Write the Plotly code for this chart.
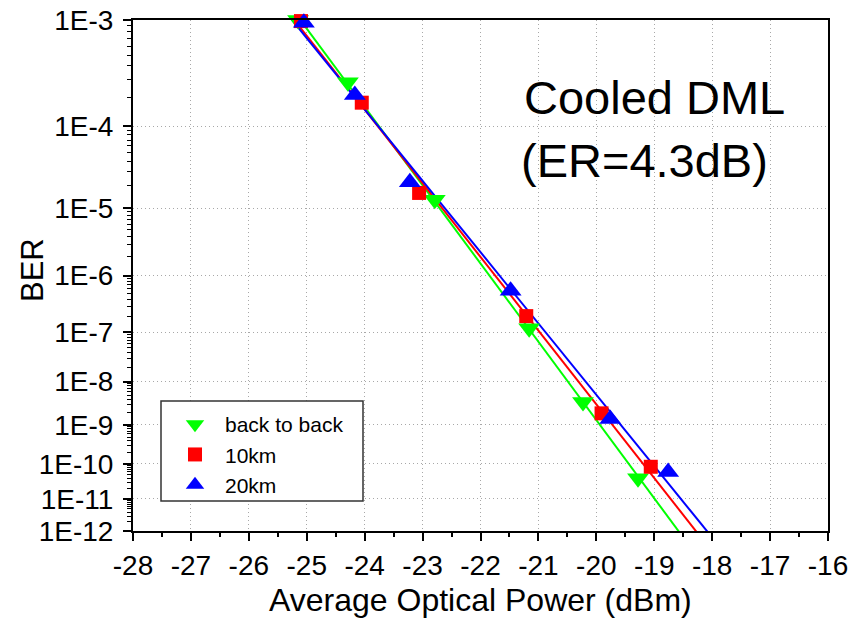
import numpy as np
import plotly.graph_objects as go

# ---- data ----
power_b2b = [-25.15, -24.29, -22.79, -21.16, -20.23, -19.28]
ber_b2b = [1.0e-3, 2.8e-4, 1.3e-5, 1.2e-7, 3.5e-9, 4.0e-11]

power_10km = [-25.10, -24.05, -23.06, -21.21, -19.91, -19.06]
ber_10km = [9.8e-4, 1.76e-4, 1.6e-5, 2.0e-7, 1.9e-9, 8.3e-11]

power_20km = [-25.05, -24.17, -23.22, -21.48, -19.76, -18.76]
ber_20km = [9.5e-4, 2.1e-4, 2.2e-5, 5.6e-7, 1.4e-9, 6.0e-11]

series_names = ["back to back", "10km", "20km"]
series_colors = ["#00FF00", "#FF0000", "#0000FF"]
series_symbols = ["triangle-down", "square", "triangle-up"]

ber_decades = [3, 4, 5, 6, 7, 8, 9, 10, 11, 12]
ber_ticktext = ["1E-%d" % d for d in ber_decades]

x_ticks = list(range(-28, -15))

x_title = "Average Optical Power (dBm)"
y_title = "BER"


def tr(ber):
    """BER scale: log10(-log10(BER))"""
    return np.log10(-np.log10(np.asarray(ber, dtype=float)))


y_top = tr(1e-3)
y_bot = tr(1e-12)
x_lo, x_hi = -28, -16

fig = go.Figure()

data = [(power_b2b, ber_b2b), (power_10km, ber_10km), (power_20km, ber_20km)]

# fitted straight lines (in BER-scale coordinates)
for (px, pb), col in zip(data, series_colors):
    m, b = np.polyfit(np.array(px), tr(pb), 1)
    ys = np.array([y_top - 0.02, y_bot + 0.02])
    xs = (ys - b) / m
    fig.add_trace(go.Scatter(x=xs, y=ys, mode="lines",
                             line=dict(color=col, width=2),
                             showlegend=False, hoverinfo="skip"))

for (px, pb), name, col, sym in zip(data, series_names, series_colors, series_symbols):
    size = 14 if sym == "square" else 19
    fig.add_trace(go.Scatter(x=px, y=tr(pb), mode="markers", name=name,
                             marker=dict(color=col, symbol=sym, size=size,
                                         line=dict(width=0)),
                             cliponaxis=False))

# minor ticks on BER axis
minor_vals = []
for d in ber_decades[1:]:
    for k in range(2, 10):
        minor_vals.append(float(tr(k * 10.0 ** (-d))))

FONT = "Liberation Sans, Arial, sans-serif"
GRID = "#a8a8a8"

fig.update_layout(
    width=864, height=621,
    margin=dict(l=133, r=36, t=20, b=90, autoexpand=False),
    paper_bgcolor="white", plot_bgcolor="white",
    font=dict(family=FONT, color="black"),
    xaxis=dict(
        range=[x_lo, x_hi], tickvals=x_ticks, ticktext=[str(v) for v in x_ticks],
        ticks="outside", ticklen=8, tickwidth=2, tickcolor="black",
        minor=dict(dtick=0.5, ticks="outside", ticklen=4, tickwidth=1.5, tickcolor="black",
                   showgrid=False),
        showline=True, linecolor="black", linewidth=2, mirror=True,
        showgrid=True, gridcolor=GRID, gridwidth=1, griddash="1px,3px",
        zeroline=False,
        tickfont=dict(size=28, family=FONT),
    ),
    yaxis=dict(
        range=[y_bot, y_top],
        tickvals=[float(v) for v in tr([10.0 ** (-d) for d in ber_decades])],
        ticktext=ber_ticktext,
        ticks="outside", ticklen=8, tickwidth=2, tickcolor="black",
        minor=dict(tickvals=minor_vals, ticks="outside", ticklen=4, tickwidth=1, tickcolor="black",
                   showgrid=False),
        showline=True, linecolor="black", linewidth=2, mirror=True,
        showgrid=True, gridcolor=GRID, gridwidth=1, griddash="1px,3px",
        zeroline=False,
        tickfont=dict(size=28, family=FONT),
        ticklabelstandoff=4,
    ),
    legend=dict(
        x=(165 - 133) / 695, y=(531 - 404) / 511, xanchor="left", yanchor="top",
        bgcolor="rgba(0,0,0,0)", borderwidth=0,
        font=dict(size=21, family=FONT), itemwidth=50,
        tracegroupgap=0,
    ),
    shapes=[dict(type="rect", xref="paper", yref="paper",
                 x0=(161 - 133) / 695, x1=(363 - 133) / 695,
                 y0=(531 - 501) / 511, y1=(531 - 401) / 511,
                 line=dict(color="#333333", width=1.5), fillcolor="white", layer="above")],
    annotations=[
        dict(text="Cooled DML", xref="paper", yref="paper",
             x=(522 - 133) / 695, y=(531 - 97) / 511, xanchor="left", yanchor="middle",
             showarrow=False, font=dict(size=47, family=FONT)),
        dict(text="(ER=4.3dB)", xref="paper", yref="paper",
             x=(519 - 133) / 695, y=(531 - 160) / 511, xanchor="left", yanchor="middle",
             showarrow=False, font=dict(size=47, family=FONT)),
        dict(text=x_title, xref="paper", yref="paper",
             x=0.5, y=(531 - 600) / 511, xanchor="center", yanchor="middle",
             showarrow=False, font=dict(size=32, family=FONT)),
        dict(text=y_title, xref="paper", yref="paper", textangle=-90,
             x=(32 - 133) / 695, y=(531 - 270) / 511, xanchor="center", yanchor="middle",
             showarrow=False, font=dict(size=31, family=FONT)),
    ],
)

# remove the page's default 8px body margin so the figure sits at the window origin
fig.write_html(
    "out.html",
    config={"displayModeBar": False},
    post_script="document.body.style.margin='0';document.body.style.overflow='hidden';",
)
